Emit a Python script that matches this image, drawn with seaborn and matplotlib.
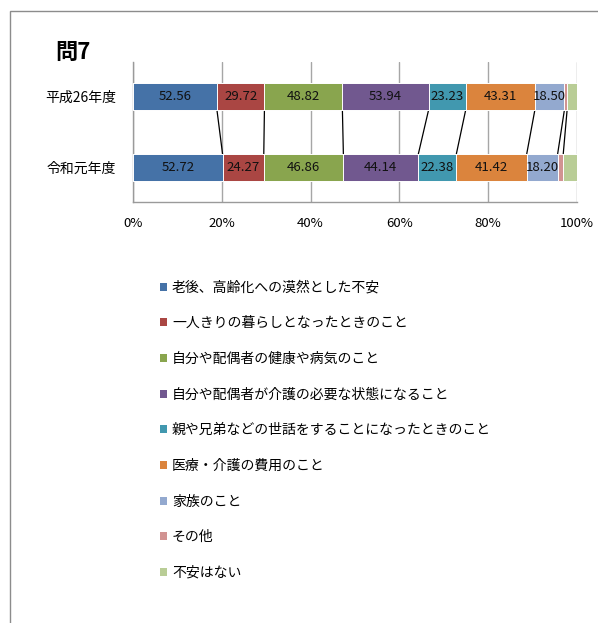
import numpy as np
import pandas as pd
import matplotlib
matplotlib.use("Agg")
import matplotlib.pyplot as plt
import seaborn as sns
from matplotlib.patches import Patch, Rectangle
from matplotlib.ticker import PercentFormatter

# Data
years = ["平成26年度", "令和元年度"]
items = [
    "老後、高齢化への漠然とした不安",
    "一人きりの暮らしとなったときのこと",
    "自分や配偶者の健康や病気のこと",
    "自分や配偶者が介護の必要な状態になること",
    "親や兄弟などの世話をすることになったときのこと",
    "医療・介護の費用のこと",
    "家族のこと",
    "その他",
    "不安はない",
]
h26 = [52.56, 29.72, 48.82, 53.94, 23.23, 43.31, 18.50, 1.70, 6.20]
r01 = [52.72, 24.27, 46.86, 44.14, 22.38, 41.42, 18.20, 3.30, 8.10]
show_label = [True] * 7 + [False] * 2
colors = ["#4572A7", "#AA4643", "#89A54E", "#71588F", "#4198AF",
          "#DB843D", "#93A9CF", "#D19392", "#B9CD96"]

sns.set_style("white")
plt.rcParams["font.family"] = ["Noto Sans CJK JP", "DejaVu Sans"]
plt.rcParams["text.color"] = "black"
plt.rcParams["xtick.color"] = "black"
plt.rcParams["ytick.color"] = "black"

vals = np.array([h26, r01])
shares = vals / vals.sum(axis=1, keepdims=True) * 100
cum = shares.cumsum(axis=1)
starts = cum - shares

fig = plt.figure(figsize=(5.98, 6.23), dpi=100)
ax = fig.add_axes([133 / 598, 1 - 202 / 623, 444 / 598, 140 / 623])

bar_w = 0.38
# stacked bars drawn as overlapping cumulative bars, longest first
for i in range(len(items) - 1, -1, -1):
    df = pd.DataFrame({"year": years, "cum": cum[:, i]})
    sns.barplot(data=df, x="cum", y="year", orient="h", color=colors[i],
                width=bar_w, saturation=1, edgecolor="white", linewidth=0.7,
                ax=ax, zorder=3)

# series lines between the two bars
for i in range(len(items) - 1):
    ax.plot([cum[0, i], cum[1, i]], [bar_w / 2, 1 - bar_w / 2],
            color="black", lw=0.9, zorder=2)

# value labels
for r in range(2):
    for i in range(len(items)):
        if show_label[i]:
            ax.text(starts[r, i] + shares[r, i] / 2, r, f"{vals[r, i]:.2f}",
                    ha="center", va="center", fontsize=9.5, color="#111111",
                    zorder=4)

ax.set_xlim(0, 100)
ax.set_ylim(1.49, -0.49)
ax.xaxis.set_major_formatter(PercentFormatter(decimals=0))
ax.set_xticks([0, 20, 40, 60, 80, 100])
ax.grid(axis="x", color="#A6A6A6", lw=1, zorder=0)
ax.set_axisbelow(True)
ax.set_xlabel("")
ax.set_ylabel("")
ax.tick_params(axis="x", labelsize=9.5, pad=11, length=0)
ax.tick_params(axis="y", labelsize=10, pad=12, length=0)
for s in ["top", "right"]:
    ax.spines[s].set_visible(False)
for s in ["left", "bottom"]:
    ax.spines[s].set_color("#9A9A9A")
    ax.spines[s].set_linewidth(1)

fig.text(55 / 598, 1 - 52 / 623, "問7", fontsize=16, fontweight="bold",
         va="center", ha="left")

handles = [Patch(facecolor=c, edgecolor="none") for c in colors]
fig.legend(handles, items, loc="upper left",
           bbox_to_anchor=(154 / 598, 1 - 275 / 623), frameon=False,
           fontsize=10, labelspacing=1.56, handlelength=0.52,
           handleheight=0.52, handletextpad=0.37, borderaxespad=0)

fig.add_artist(Rectangle((10 / 598, -0.1), 1.5, 1.1 - 11 / 623,
                         transform=fig.transFigure, fill=False,
                         edgecolor="#8C8C8C", lw=1))

fig.savefig("out.png", dpi=100)
